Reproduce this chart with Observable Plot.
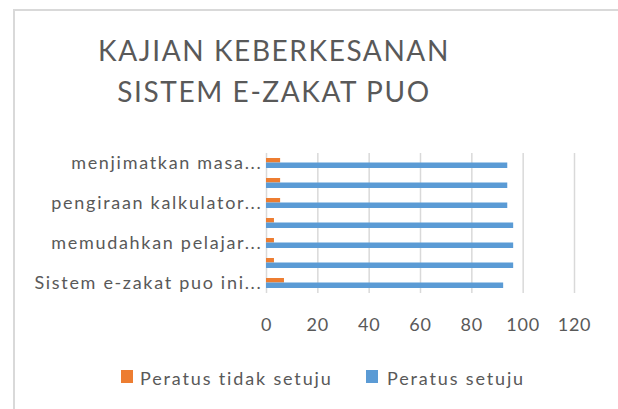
<!DOCTYPE html>
<html>
<head>
<meta charset="utf-8">
<script src="https://cdn.jsdelivr.net/npm/d3@7"></script>
<script src="https://cdn.jsdelivr.net/npm/@observablehq/plot@0.6"></script>
<style>
  html, body { margin: 0; padding: 0; background: #fff; }
  #wrap { position: relative; width: 618px; height: 409px; overflow: hidden; font-family: Lato, "Open Sans", sans-serif; color: #595959; }
  #frame { position: absolute; left: 13px; top: 9px; width: 700px; height: 500px; border-top: 2px solid #d9d9d9; border-left: 2px solid #d9d9d9; }
  #title { position: absolute; left: 0; width: 548px; top: 30px; text-align: center; font-size: 28px; line-height: 41.3px; letter-spacing: 1.6px; white-space: nowrap; }
  #chart { position: absolute; left: 0; top: 130px; }
  #chart g[aria-label="y-axis tick label"] text { letter-spacing: 1.7px; }
  #chart g[aria-label="x-axis tick label"] text { letter-spacing: 0.8px; }
  .lg { position: absolute; top: 367px; font-size: 18px; letter-spacing: 1.85px; white-space: nowrap; }
  .sw { position: absolute; width: 12px; height: 13px; top: 370px; }
</style>
</head>
<body>
<div id="wrap">
  <div id="frame"></div>
  <div id="title"></div>
  <div id="chart"></div>
  <div id="legend"></div>
</div>
<script>
const titleLines = ["KAJIAN KEBERKESANAN", "SISTEM E-ZAKAT PUO"];
const categories = ["Sistem e-zakat puo ini...", "Item 2", "memudahkan pelajar...", "Item 4", "pengiraan kalkulator...", "Item 6", "menjimatkan masa..."];
const shownLabels = ["Sistem e-zakat puo ini...", "memudahkan pelajar...", "pengiraan kalkulator...", "menjimatkan masa..."];
const setuju = [92.4, 96.3, 96.3, 96.3, 94.0, 94.0, 94.0];
const tidakSetuju = [7.0, 3.1, 3.1, 3.1, 5.5, 5.5, 5.5];
const seriesNames = ["Peratus tidak setuju", "Peratus setuju"];
const seriesColors = ["#ED7D31", "#5B9BD5"];
const xTicks = [0, 20, 40, 60, 80, 100, 120];

document.getElementById("title").innerHTML = titleLines.join("<br>");

const rows = categories.map((c, i) => ({cat: c, setuju: setuju[i], tidak: tidakSetuju[i]}));

const chart = Plot.plot({
  width: 618,
  height: 215,
  marginLeft: 266,
  marginRight: 44,
  marginTop: 23,
  marginBottom: 52,
  style: {fontFamily: "Lato, 'Open Sans', sans-serif", fontSize: "18px", color: "#595959", background: "transparent"},
  x: {domain: [0, 120]},
  y: {domain: categories.slice().reverse(), padding: 0},
  marks: [
    Plot.ruleX(xTicks, {stroke: "#d9d9d9", strokeWidth: 1.5}),
    Plot.barX(rows, {x: "tidak", y: "cat", fill: seriesColors[0], insetTop: 5, insetBottom: 10.5}),
    Plot.barX(rows, {x: "setuju", y: "cat", fill: seriesColors[1], insetTop: 9.5, insetBottom: 5}),
    Plot.axisX({ticks: xTicks, tickSize: 0, tickPadding: 25, label: null}),
    Plot.axisY({ticks: shownLabels, tickSize: 0, tickPadding: 4, label: null})
  ]
});
document.getElementById("chart").appendChild(chart);

const legend = document.getElementById("legend");
const swX = [121, 366];
const txX = [140, 387];
seriesNames.forEach((name, i) => {
  const sw = document.createElement("div");
  sw.className = "sw";
  sw.style.left = swX[i] + "px";
  sw.style.background = seriesColors[i];
  legend.appendChild(sw);
  const t = document.createElement("div");
  t.className = "lg";
  t.style.left = txX[i] + "px";
  t.textContent = name;
  legend.appendChild(t);
});
</script>
</body>
</html>
